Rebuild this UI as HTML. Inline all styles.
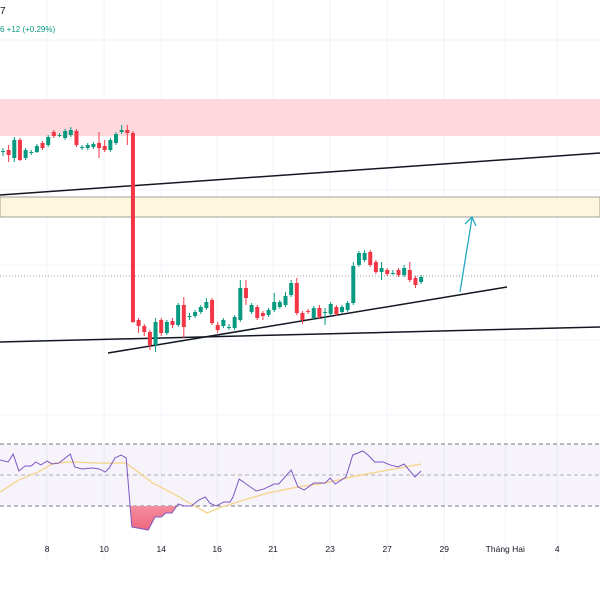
<!DOCTYPE html>
<html><head><meta charset="utf-8"><style>
html,body{margin:0;padding:0;background:#fff;}
svg{display:block;font-family:"Liberation Sans",sans-serif;}
</style></head><body>
<svg id="chart" width="600" height="600" viewBox="0 0 600 600" xmlns="http://www.w3.org/2000/svg">
<rect x="0" y="0" width="600" height="600" fill="#ffffff"/>
<g id="grid"></g>
<text x="0" y="14" font-size="10" fill="#131722">7</text>
<text x="0" y="32" font-size="8" fill="#089981">6  +12 (+0.29%)</text>
<rect x="0" y="99" width="600" height="37" fill="#fdd8dc"/>
<rect x="0" y="197" width="600" height="20" fill="#fdf7dd" stroke="#8a8a8a" stroke-width="0.8"/>
<line x1="0" y1="276" x2="600" y2="276" stroke="#9598a1" stroke-width="1" stroke-dasharray="1,2"/>
<line x1="0" y1="195" x2="600" y2="153" stroke="#131722" stroke-width="1.5"/>
<line x1="0" y1="342" x2="600" y2="327" stroke="#131722" stroke-width="1.5"/>
<line x1="108" y1="353" x2="507" y2="287" stroke="#131722" stroke-width="1.5"/>
<g id="candles"></g>
<g>
<line x1="460" y1="292" x2="472" y2="218" stroke="#26a9c2" stroke-width="1.3"/>
<polyline points="465,224 472,217 476,226" fill="none" stroke="#26a9c2" stroke-width="1.3"/>
</g>
<g id="rsi">
<rect x="0" y="444" width="600" height="62" fill="#7e57c2" fill-opacity="0.07"/>
<line x1="0" y1="444" x2="600" y2="444" stroke="#787b86" stroke-dasharray="4,3"/>
<line x1="0" y1="475" x2="600" y2="475" stroke="#9598a1" stroke-dasharray="4,3" stroke-width="0.8"/>
<line x1="0" y1="506" x2="600" y2="506" stroke="#787b86" stroke-dasharray="4,3"/>
</g>
<g id="xaxis"></g>
</svg>
<script>
const opens=[4248,4250,4242,4260,4242,4247,4248,4257,4255,4268,4264,4262,4265,4269,4252,4252,4253,4257,4254,4250,4257,4268,4270,4267,4080,4074,4068,4055,4080,4067,4079,4075,4095,4083,4084,4088,4092,4100,4075,4074,4072,4072,4080,4112,4088,4093,4087,4085,4090,4093,4095,4105,4117,4087,4089,4082,4092,4087,4086,4093,4088,4090,4097,4135,4140,4148,4138,4128,4130,4126,4130,4125,4130,4122,4118];
const highs=[4252,4255,4263,4262,4252,4250,4256,4259,4265,4270,4267,4271,4273,4271,4255,4257,4258,4268,4260,4262,4268,4275,4275,4269,4082,4076,4070,4082,4082,4080,4082,4097,4103,4087,4090,4095,4102,4102,4078,4082,4076,4085,4120,4120,4097,4095,4089,4092,4107,4100,4108,4120,4122,4089,4091,4094,4095,4092,4098,4095,4095,4099,4138,4149,4150,4150,4140,4138,4132,4130,4132,4135,4138,4124,4125];
const lows=[4244,4238,4238,4239,4240,4245,4247,4250,4253,4262,4263,4260,4263,4253,4250,4250,4251,4242,4248,4248,4255,4266,4255,4077,4067,4064,4050,4048,4064,4065,4072,4073,4062,4080,4082,4086,4090,4075,4067,4072,4070,4070,4078,4095,4086,4080,4080,4083,4088,4091,4093,4103,4085,4076,4086,4080,4081,4075,4084,4084,4087,4088,4095,4133,4138,4133,4126,4120,4124,4125,4123,4123,4118,4112,4116];
const closes=[4249,4245,4260,4240,4250,4248,4254,4252,4263,4264,4265,4269,4270,4255,4253,4255,4256,4252,4250,4260,4266,4270,4267,4078,4074,4068,4055,4078,4067,4078,4075,4095,4073,4084,4088,4093,4098,4077,4070,4080,4073,4083,4112,4102,4095,4082,4084,4090,4098,4098,4104,4117,4087,4080,4088,4092,4083,4088,4096,4086,4093,4097,4134,4147,4147,4135,4128,4132,4126,4127,4125,4132,4120,4115,4123];
const rsiT=[-0.5,0.9,1.8,2.8,3.9,5,5.8,6.7,7.8,8.7,9.9,11.9,12.7,14,15.8,17,18.1,18.8,19.8,20.9,21.8,22.8,25.7,26.9,28,28.8,29.9,31,32,33.3,34.7,35.8,36.6,37.7,39.1,40.2,40.7,41.8,44.8,46.2,48,48.8,51,52.2,53.3,55,57,57.9,58.8,60.7,61.9,63.7,64.6,65.8,67.3,68.5,69.9,71,72.9,74];
const rsiV=[59.7,58.4,63.5,52.6,55.8,55.8,58.4,56.5,59,57.1,57.7,63.5,55.2,53.9,54.5,53.9,51.9,54.5,61,62.9,61,16.5,14.5,22.9,22.9,25.5,25.5,31.3,30,30,33.9,35.8,31.9,30,32.6,32.6,35.8,47.4,39.7,41,44.2,44.2,53.2,42.3,40.3,44.8,44.8,48,44.2,48.7,62.9,65.5,62.9,58.4,58.4,56.5,55.2,57.1,48.7,52.6];
const maT=[-0.5,2.8,6.2,9,12.4,17,21.8,26.5,29.9,33.3,36.1,38.8,42.1,46.9,52.2,57,62.5,67.3,74];
const maV=[39,46.8,51.9,57.7,58.4,57.7,57.7,44.8,38.4,31.3,25.5,29.4,33.2,38.4,42.3,44.8,49.4,52.6,57.1];
const tickLabels=["8","10","14","16","21","23","27","29","Tháng Hai","4"];
const tickT=[7.8,17.9,28,37.9,47.8,57.9,68,78.1,88.9,98.1];

const NS="http://www.w3.org/2000/svg";
const xS=t=>3+t*5.65;
const yS=p=>4400-p;
const rY=v=>475-(v-50)*1.55;
function mk(tag,attrs,parent){const e=document.createElementNS(NS,tag);for(const k in attrs)e.setAttribute(k,attrs[k]);parent.appendChild(e);return e;}

const grid=document.getElementById('grid');
tickT.forEach(t=>{
  const l=mk('line',{x1:xS(t),x2:xS(t),y1:0,y2:560,stroke:'#f0f3fa','stroke-width':1},grid);
  
  
});
[40,115,190,265,340,415].forEach(y=>{
  const l=mk('line',{x1:0,x2:600,y1:y,y2:y,stroke:'#f0f3fa','stroke-width':1},grid);
  
  
});

const cg=document.getElementById('candles');
const n=Math.min(opens.length,highs.length,lows.length,closes.length);
for(let i=0;i<n;i++){
  const up=closes[i]>=opens[i];
  const col=up?'#089981':'#f23645';
  const x=xS(i);
  const g=mk('g',{},cg);
  
  
  mk('line',{x1:x,x2:x,y1:yS(highs[i]),y2:yS(lows[i]),stroke:col,'stroke-width':1},g);
  const top=yS(Math.max(opens[i],closes[i])),bot=yS(Math.min(opens[i],closes[i]));
  mk('rect',{x:x-2,y:top,width:4,height:Math.max(1,bot-top),fill:col},g);
}

const rg=document.getElementById('rsi');
const pts=rsiT.map((t,i)=>[xS(t),rY(rsiV[i])]);
const defs=mk('defs',{},rg);
const cp=mk('clipPath',{id:'os'},defs);
mk('rect',{x:0,y:506,width:600,height:60},cp);
const grad=mk('linearGradient',{id:'osg',x1:0,y1:0,x2:0,y2:1},defs);
mk('stop',{offset:'0','stop-color':'#fce4e8'},grad);
mk('stop',{offset:'1','stop-color':'#f0677e'},grad);
const area=mk('polygon',{points:pts.map(p=>p.join(',')).join(' ')+` ${pts[pts.length-1][0]},506 ${pts[0][0]},506`,fill:'url(#osg)','clip-path':'url(#os)'},rg);


const ma=mk('polyline',{points:maT.map((t,i)=>xS(t)+','+rY(maV[i])).join(' '),fill:'none',stroke:'#f5d48a','stroke-width':1.3},rg);


const rl=mk('polyline',{points:pts.map(p=>p.join(',')).join(' '),fill:'none',stroke:'#7e57c2','stroke-width':1},rg);



const xa=document.getElementById('xaxis');
tickLabels.forEach((s,i)=>{
  const t=mk('text',{x:xS(tickT[i]),y:552,'font-size':8.5,fill:'#131722','text-anchor':'middle'},xa);
  t.textContent=s;
  
  
});
</script>
</body></html>
